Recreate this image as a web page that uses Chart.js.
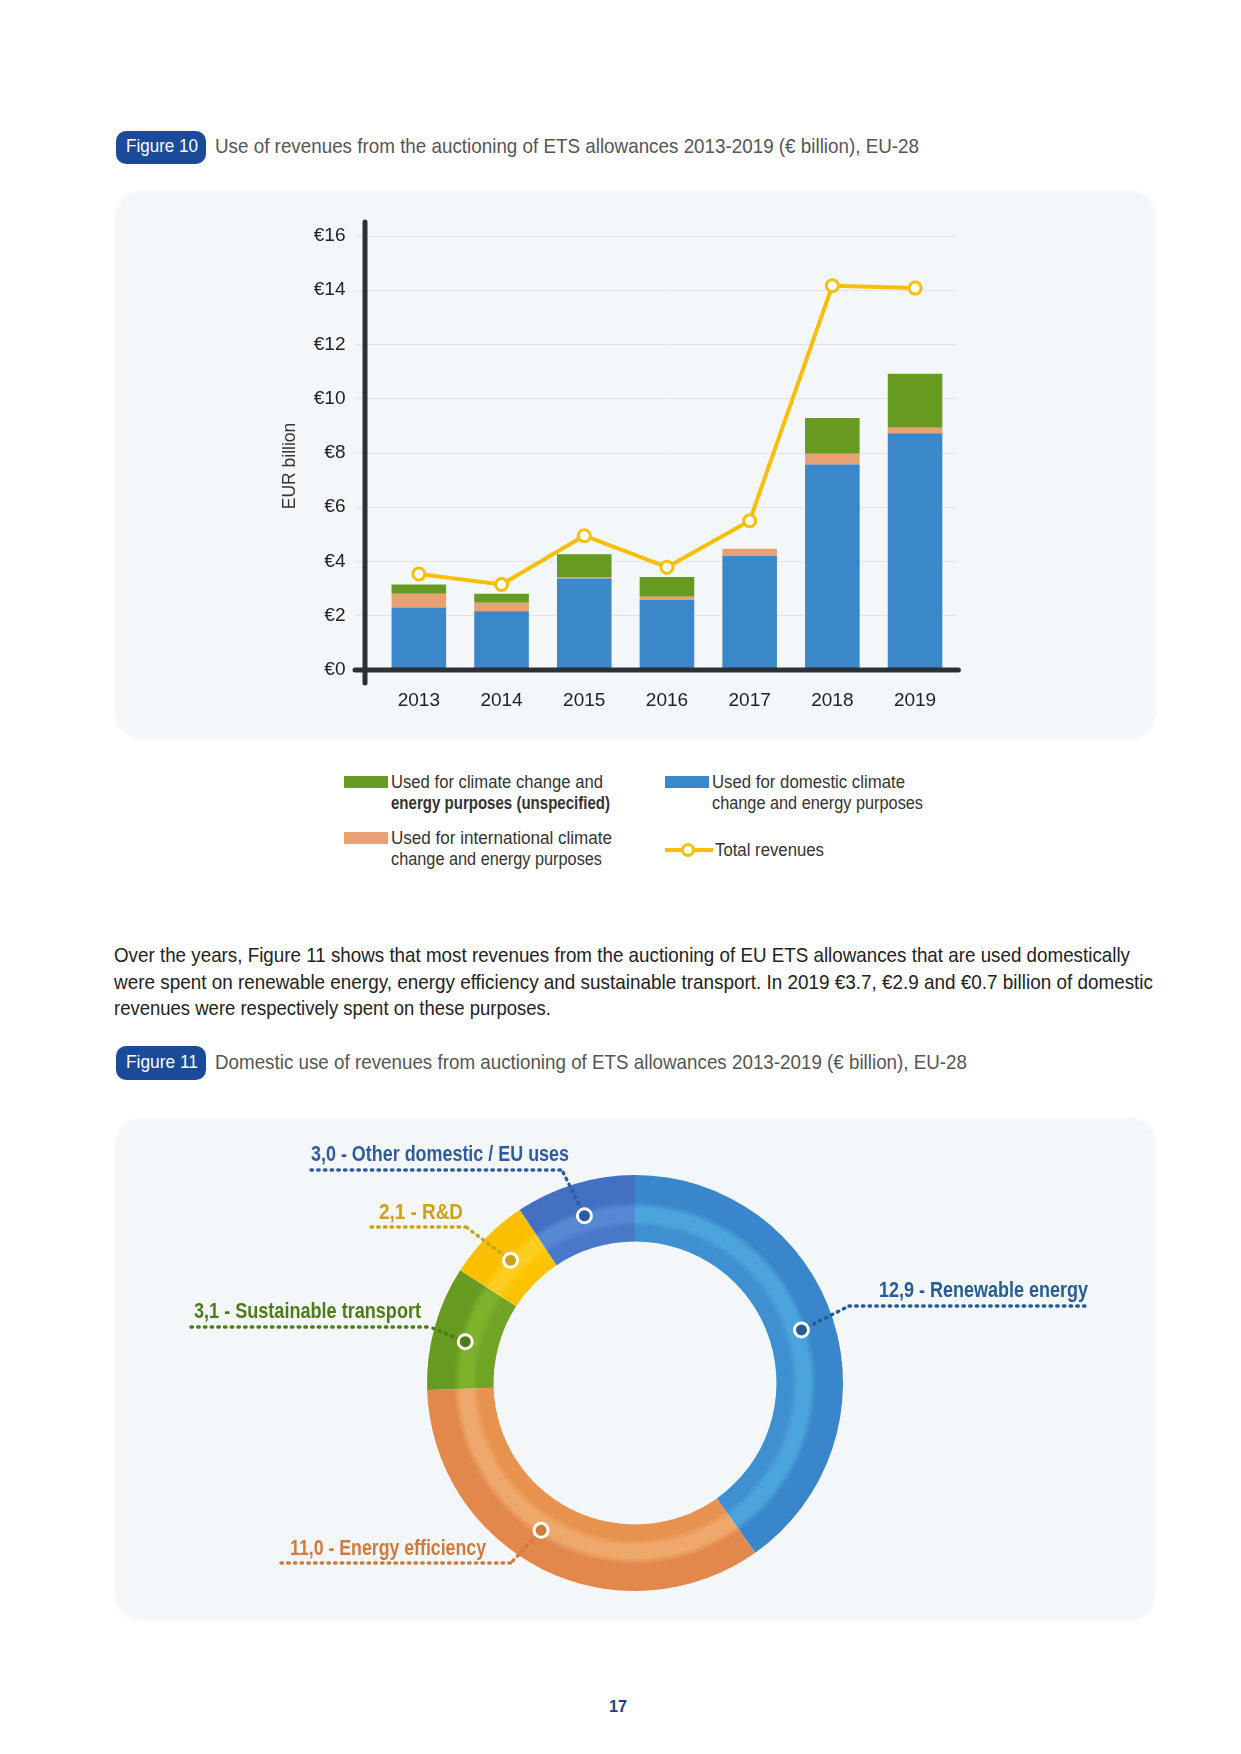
<!DOCTYPE html>
<html>
<head>
<meta charset="utf-8">
<script src="https://cdn.jsdelivr.net/npm/chart.js@4.4.1/dist/chart.umd.min.js"></script>
<style>
body { margin: 0; width: 1241px; height: 1754px; background: #fff; position: relative; overflow: hidden;
       font-family: "Liberation Sans Narrow", "Liberation Sans", sans-serif; color: #222; }
.abs { position: absolute; white-space: nowrap; transform-origin: 0 50%; }
.badge { position: absolute; background: #1B4A9B; color: #fff; border-radius: 10px; }
.panel { position: absolute; background: #F4F7FA; border-radius: 26px; box-shadow: 0 1px 4px rgba(0,0,0,0.06); }
canvas { position: absolute; }
</style>
</head>
<body>
<div class="badge" style="left:116px;top:131px;width:90px;height:33px"></div>
<div class="badge" style="left:116px;top:1046px;width:90px;height:34px"></div>
<div class="panel" style="left:116px;top:191px;width:1039px;height:547px"></div>
<div class="panel" style="left:116px;top:1118px;width:1039px;height:501px"></div>
<canvas id="revChart" width="1039" height="547" style="left:116px;top:191px"></canvas>
<canvas id="useChart" width="1039" height="501" style="left:116px;top:1118px"></canvas>

<script>
// figure 10 data (EUR billion)
var years = ['2013', '2014', '2015', '2016', '2017', '2018', '2019'];
var domestic = [2.30, 2.17, 3.37, 2.59, 4.21, 7.58, 8.73];
var international = [0.51, 0.31, 0.06, 0.11, 0.26, 0.39, 0.20];
var unspecified = [0.34, 0.33, 0.84, 0.73, 0, 1.32, 1.99];
var totalRevenues = [3.54, 3.15, 4.95, 3.79, 5.50, 14.17, 14.08];

var seriesNames = {
    unspecified: ['Used for climate change and', 'energy purposes (unspecified)'],
    domestic: ['Used for domestic climate', 'change and energy purposes'],
    international: ['Used for international climate', 'change and energy purposes'],
    total: ['Total revenues']
};
var yTitle = 'EUR billion';

// figure 11 data (EUR billion)
var useNames = ['Renewable energy', 'Energy efficiency', 'Sustainable transport', 'R&D', 'Other domestic / EU uses'];
var useValues = [12.9, 11.0, 3.1, 2.1, 3.0];

var BLUE = '#3A87CA', ORANGE = '#E9A174', GREEN = '#679A21', GOLD = '#F7BF0A';
var FONT = '"Liberation Sans Narrow", "Liberation Sans", sans-serif';

function addText(txt, left, cy, size, w, style) {
    var d = document.createElement('div');
    d.className = 'abs';
    d.textContent = txt;
    d.style.left = left + 'px';
    d.style.top = (cy - size * 0.6) + 'px';
    d.style.fontSize = size + 'px';
    d.style.lineHeight = (size * 1.2) + 'px';
    for (var k in (style || {})) d.style[k] = style[k];
    document.body.appendChild(d);
    if (w) {
        var r = d.getBoundingClientRect().width;
        d.style.transform = 'scaleX(' + (w / r) + ')';
    }
    return d;
}

// headings, paragraph, page number
addText('Figure 10', 126, 146.5, 19, 72, {color: '#fff'});
addText('Use of revenues from the auctioning of ETS allowances 2013-2019 (€ billion), EU-28', 215, 146, 21, 704, {color: '#555'});
addText('Over the years, Figure 11 shows that most revenues from the auctioning of EU ETS allowances that are used domestically', 114, 955, 21, 1016);
addText('were spent on renewable energy, energy efficiency and sustainable transport. In 2019 €3.7, €2.9 and €0.7 billion of domestic', 114, 982, 21, 1039);
addText('revenues were respectively spent on these purposes.', 114, 1008, 21, 437);
addText('Figure 11', 126, 1062, 19, 72, {color: '#fff'});
addText('Domestic use of revenues from auctioning of ETS allowances 2013-2019 (€ billion), EU-28', 215, 1062, 21, 752, {color: '#555'});
addText('17', 609, 1707, 16, 18, {color: '#1F3E8C', fontWeight: 'bold'});

// legend of figure 10
var legendItems = [
    {lines: seriesNames.unspecified, color: GREEN, x: 344, y: 782, w: [212, 219], bold: [false, true]},
    {lines: seriesNames.domestic, color: BLUE, x: 665, y: 782, w: [193, 211]},
    {lines: seriesNames.international, color: ORANGE, x: 344, y: 838, w: [221, 211]},
    {lines: seriesNames.total, color: GOLD, x: 665, y: 850, w: [109], line: true}
];
legendItems.forEach(function (it) {
    var sw = document.createElement('div');
    sw.style.position = 'absolute';
    if (it.line) {
        sw.style.left = it.x + 'px'; sw.style.top = (it.y - 2) + 'px';
        sw.style.width = '48px'; sw.style.height = '4px'; sw.style.background = it.color;
        var dot = document.createElement('div');
        dot.style.cssText = 'position:absolute;left:16px;top:-5px;width:8px;height:8px;border-radius:50%;background:#fff;border:3px solid ' + it.color;
        sw.appendChild(dot);
    } else {
        sw.style.left = it.x + 'px'; sw.style.top = (it.y - 6) + 'px';
        sw.style.width = '44px'; sw.style.height = '12px'; sw.style.background = it.color;
    }
    document.body.appendChild(sw);
    it.lines.forEach(function (ln, j) {
        addText(ln, it.x + (it.line ? 50 : 47), it.y + j * 21.5, 17.5, it.w[j],
            {color: '#333', fontWeight: it.bold && it.bold[j] ? 'bold' : 'normal'});
    });
});

Chart.defaults.font.family = FONT;
Chart.defaults.color = '#222';

// thick dark axis lines and the rotated axis title
var axesPlugin = {
    id: 'axes',
    afterDatasetsDraw: function (chart) {
        var ctx = chart.ctx, a = chart.chartArea, y0 = chart.scales.y.getPixelForValue(0);
        var x0 = a.left - 12.5;
        ctx.save();
        ctx.strokeStyle = '#2D3035';
        ctx.lineWidth = 5;
        ctx.lineCap = 'round';
        ctx.beginPath();
        ctx.moveTo(x0, a.top - 14);
        ctx.lineTo(x0, y0 + 13);
        ctx.moveTo(x0 - 10, y0);
        ctx.lineTo(a.right + 2, y0);
        ctx.stroke();
        ctx.translate(a.left - 87.5, (a.top + y0) / 2 + 13);
        ctx.rotate(-Math.PI / 2);
        ctx.font = '17.5px ' + FONT;
        ctx.fillStyle = '#333';
        ctx.textAlign = 'center';
        ctx.textBaseline = 'middle';
        ctx.fillText(yTitle, 0, 0);
        ctx.restore();
    }
};

new Chart(document.getElementById('revChart'), {
    type: 'bar',
    data: {
        labels: years,
        datasets: [
            {
                type: 'line',
                label: seriesNames.total.join(' '),
                data: totalRevenues,
                stack: 'total',
                order: 0,
                borderColor: GOLD,
                borderWidth: 4,
                borderJoinStyle: 'round',
                pointRadius: 6,
                pointBorderWidth: 3,
                pointBackgroundColor: '#fff',
                pointBorderColor: GOLD,
                tension: 0
            },
            {label: seriesNames.domestic.join(' '), data: domestic, backgroundColor: BLUE, stack: 'rev', order: 1},
            {label: seriesNames.international.join(' '), data: international, backgroundColor: ORANGE, stack: 'rev', order: 1},
            {label: seriesNames.unspecified.join(' '), data: unspecified, backgroundColor: GREEN, stack: 'rev', order: 1}
        ]
    },
    options: {
        responsive: false,
        animation: false,
        categoryPercentage: 1,
        barPercentage: 0.66,
        layout: {padding: {left: 160, right: 198.6, top: 45, bottom: 6}},
        plugins: {legend: {display: false}, tooltip: {enabled: false}},
        scales: {
            x: {
                stacked: true,
                grid: {display: false, drawTicks: false},
                border: {display: false},
                ticks: {padding: 19.6, font: {size: 19, family: '"Liberation Sans", sans-serif'}, color: '#222'}
            },
            y: {
                stacked: true,
                min: 0,
                max: 16,
                afterFit: function (s) { s.width = 101.5; },
                grid: {color: '#E0E4E9', tickLength: 22, drawTicks: true},
                border: {display: false},
                ticks: {stepSize: 2, padding: 10, font: {size: 19, family: '"Liberation Sans", sans-serif'}, color: '#222',
                        callback: function (v) { return '€' + v; }}
            }
        }
    },
    plugins: [axesPlugin]
});

// figure 11: callouts placed relative to ring centre
var calloutColors = ['#255C96', '#D07A3C', '#4E7C14', '#CFA112', '#2E5BA3'];
var ringShades = [
    ['#3E90D0', '#4CA4DC', '#3986CA'],
    ['#E8924F', '#EEA86B', '#E3884C'],
    ['#6FA424', '#7DB22C', '#679A20'],
    ['#FDC300', '#FFCD1F', '#FABF00'],
    ['#4A78C8', '#5788D3', '#4470C2']
];
var calloutLayout = [
    {at: 0.5,  text: [244, -86],  w: 209, line: [214, 455],   lineY: -77, join: [214, -77]},
    {at: 0.55, text: [-345, 172], w: 196, line: [-354, -124], lineY: 180, join: [-124, 180]},
    {at: 0.45, text: [-441, -65], w: 227, line: [-444, -205], lineY: -56, join: [-205, -56]},
    {at: 0.5,  text: [-256, -164], w: 84, line: [-264, -156], lineY: -156, join: [-169, -156]},
    {at: 0.5,  text: [-324, -222], w: 258, line: [-324, -73], lineY: -213, join: [-73, -213]}
];

var calloutPlugin = {
    id: 'callouts',
    afterDatasetsDraw: function (chart) {
        var ctx = chart.ctx;
        chart.getDatasetMeta(0).data.forEach(function (arc, i) {
            var p = arc.getProps(['x', 'y', 'startAngle', 'endAngle', 'innerRadius', 'outerRadius'], true);
            var L = calloutLayout[i], col = calloutColors[i];
            var ang = p.startAngle + (p.endAngle - p.startAngle) * L.at;
            var r = (p.innerRadius + p.outerRadius) / 2;
            var mx = p.x + r * Math.cos(ang), my = p.y + r * Math.sin(ang);

            ctx.save();
            ctx.strokeStyle = col;
            ctx.lineWidth = 3.4;
            ctx.lineCap = 'round';
            ctx.setLineDash([1.5, 5.2]);
            ctx.beginPath();
            ctx.moveTo(mx, my);
            ctx.lineTo(p.x + L.join[0], p.y + L.join[1]);
            ctx.moveTo(p.x + L.line[0], p.y + L.lineY);
            ctx.lineTo(p.x + (i === 3 ? -169 : L.line[1]), p.y + L.lineY);
            ctx.stroke();
            ctx.restore();

            var txt = useValues[i].toFixed(1).replace('.', ',') + ' - ' + useNames[i];
            ctx.save();
            ctx.font = 'bold 22px ' + FONT;
            ctx.fillStyle = col;
            ctx.textBaseline = 'alphabetic';
            var tw = ctx.measureText(txt).width;
            ctx.translate(p.x + L.text[0], p.y + L.text[1]);
            ctx.scale(L.w / tw, 1);
            ctx.fillText(txt, 0, 0);
            ctx.restore();

            ctx.save();
            ctx.beginPath();
            ctx.arc(mx, my, 7, 0, 2 * Math.PI);
            ctx.fillStyle = col;
            ctx.fill();
            ctx.lineWidth = 3;
            ctx.strokeStyle = '#fff';
            ctx.stroke();
            ctx.restore();
        });
    }
};

new Chart(document.getElementById('useChart'), {
    type: 'doughnut',
    data: {
        labels: useNames,
        datasets: [{
            data: useValues,
            borderWidth: 0,
            hoverOffset: 0,
            backgroundColor: function (c) {
                var ch = c.chart, a = ch.chartArea, sh = ringShades[c.dataIndex];
                if (!a) return sh[0];
                var cx = (a.left + a.right) / 2, cy = (a.top + a.bottom) / 2;
                var R = Math.min(a.right - a.left, a.bottom - a.top) / 2, r0 = R * 0.68;
                var g = ch.ctx.createRadialGradient(cx, cy, r0, cx, cy, R);
                g.addColorStop(0, sh[0]);
                g.addColorStop(0.22, sh[0]);
                g.addColorStop(0.32, sh[1]);
                g.addColorStop(0.5, sh[1]);
                g.addColorStop(0.6, sh[2]);
                g.addColorStop(1, sh[2]);
                return g;
            }
        }]
    },
    options: {
        responsive: false,
        animation: false,
        cutout: '68%',
        layout: {padding: {left: 311, right: 312, top: 57, bottom: 28}},
        plugins: {legend: {display: false}, tooltip: {enabled: false}}
    },
    plugins: [calloutPlugin]
});
</script>
</body>
</html>
